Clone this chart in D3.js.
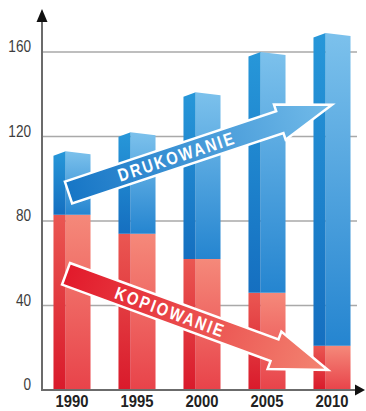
<!DOCTYPE html>
<html>
<head>
<meta charset="utf-8">
<script src="https://cdn.jsdelivr.net/npm/d3@7"></script>
<style>
  html, body { margin: 0; padding: 0; background: #fff; }
  svg { display: block; }
  .cond { font-family: "Liberation Sans", Arial, Helvetica, sans-serif; }
</style>
</head>
<body>
<svg id="chart" width="366" height="411"></svg>
<script>
// Years on the horizontal axis
const years = ["1990", "1995", "2000", "2005", "2010"];
// Copying volume (lower, red part of each bar)
const kopiowanie = [83, 74, 62, 46, 21];
// Printing volume (upper, blue part of each bar)
const drukowanie = [30, 48, 79, 114, 148];
// Value axis ticks
const yTicks = [0, 40, 80, 120, 160];
// Trend arrow endpoints, in data units: [year, value]
const drukArrow = { label: "DRUKOWANIE", from: ["1990", 93.5], to: ["2010", 135] };
const kopiArrow = { label: "KOPIOWANIE", from: ["1990", 55], to: ["2010", 9.5] };

const svg = d3.select("#chart");
const axisX = 42, baseY = 390;

const x = d3.scaleBand().domain(years).range([39.5, 364.5]).paddingInner(0.43).paddingOuter(0.215);
const y = d3.scaleLinear().domain([0, 160]).range([baseY, 52]);

const defs = svg.append("defs");
function vGrad(id, top, bottom) {
  const g = defs.append("linearGradient").attr("id", id).attr("x1", 0).attr("y1", 0).attr("x2", 0).attr("y2", 1);
  g.append("stop").attr("offset", "0%").attr("stop-color", top);
  g.append("stop").attr("offset", "100%").attr("stop-color", bottom);
}
function hGrad(id, left, right) {
  const g = defs.append("linearGradient").attr("id", id).attr("x1", 0).attr("y1", 0).attr("x2", 1).attr("y2", 0);
  g.append("stop").attr("offset", "0%").attr("stop-color", left);
  g.append("stop").attr("offset", "100%").attr("stop-color", right);
}
vGrad("blueL", "#2797d9", "#156fc0");
vGrad("blueR", "#7cc1ec", "#2585d0");
vGrad("redL", "#ea5752", "#d91a2b");
vGrad("redR", "#f5897a", "#e8434a");
hGrad("arrowBlue", "#1776c6", "#72bbe9");
hGrad("arrowRed", "#e21a2b", "#f38572");

// Condensed label: regular face squeezed horizontally
function condText(sel, sx) {
  return sel.attr("transform", function () {
    const cx = +this.getAttribute("data-x"), cy = +this.getAttribute("data-y");
    return `translate(${cx},${cy}) scale(${sx},1)`;
  });
}

// Gridlines
svg.append("g").selectAll("line").data(yTicks.filter(d => d > 0)).join("line")
  .attr("x1", axisX).attr("x2", 357)
  .attr("y1", d => y(d)).attr("y2", d => y(d))
  .attr("stroke", "#a9a9a9").attr("stroke-width", 1.5);

// Tick labels
svg.append("g").attr("class", "cond").selectAll("text").data(yTicks).join("text")
  .attr("data-x", 31).attr("data-y", d => y(d) - 4)
  .attr("text-anchor", "end").attr("dominant-baseline", "middle")
  .attr("font-size", 17).attr("fill", "#3d3d3d")
  .text(d => d)
  .call(condText, 0.8);

// Prism-like bars: narrow darker left face, wider lighter right face
const bw = x.bandwidth();
const leftW = bw * 0.33;
const bars = svg.append("g");
years.forEach((yr, i) => {
  const x0 = x(yr), xm = x0 + leftW, x1 = x0 + bw;
  const redTop = y(kopiowanie[i]);
  const top = y(kopiowanie[i] + drukowanie[i]);
  const g = bars.append("g");
  // red (copying) segment
  g.append("rect").attr("x", x0).attr("y", redTop).attr("width", leftW).attr("height", baseY - redTop).attr("fill", "url(#redL)");
  g.append("rect").attr("x", xm).attr("y", redTop).attr("width", x1 - xm).attr("height", baseY - redTop).attr("fill", "url(#redR)");
  // blue (printing) segment with slanted top edges
  g.append("path").attr("d", `M${x0},${top + 4.5} L${xm},${top} L${xm},${redTop} L${x0},${redTop} Z`).attr("fill", "url(#blueL)");
  g.append("path").attr("d", `M${xm},${top} L${x1},${top + 3} L${x1},${redTop} L${xm},${redTop} Z`).attr("fill", "url(#blueR)");
});

// Axes
svg.append("line").attr("x1", axisX).attr("x2", axisX).attr("y1", baseY + 1).attr("y2", 20)
  .attr("stroke", "#6b6b6b").attr("stroke-width", 2);
svg.append("path").attr("d", `M${axisX},9 L${axisX + 5.5},22 L${axisX - 5.5},22 Z`).attr("fill", "#111");
svg.append("line").attr("x1", axisX - 1).attr("x2", 358).attr("y1", baseY).attr("y2", baseY)
  .attr("stroke", "#6b6b6b").attr("stroke-width", 2);
svg.append("path").attr("d", `M365,${baseY} L355,${baseY - 5.5} L355,${baseY + 5.5} Z`).attr("fill", "#111");

// Year labels
svg.append("g").attr("class", "cond").selectAll("text").data(years).join("text")
  .attr("data-x", d => x(d) + bw / 2).attr("data-y", 403)
  .attr("text-anchor", "middle").attr("dominant-baseline", "middle")
  .attr("font-size", 17).attr("font-weight", "bold").attr("fill", "#222")
  .text(d => d)
  .call(condText, 0.87);

// Trend arrows
function drawArrow(a, fill, startOff, endOff, bodyHalf, headHalf, headLen, textAt) {
  const sx = x(a.from[0]) + bw / 2 + startOff, sy = y(a.from[1]);
  const ex = x(a.to[0]) + bw / 2 + endOff, ey = y(a.to[1]);
  const L = Math.hypot(ex - sx, ey - sy);
  const ang = Math.atan2(ey - sy, ex - sx) * 180 / Math.PI;
  const g = svg.append("g").attr("transform", `translate(${sx},${sy}) rotate(${ang})`);
  const hb = bodyHalf, hh = headHalf, hl = headLen;
  const pts = [[0, -hb], [L - hl, -hb], [L - hl, -hh], [L, 0], [L - hl, hh], [L - hl, hb], [0, hb]];
  g.append("path").attr("d", "M" + pts.map(p => p.join(",")).join("L") + "Z")
    .attr("fill", fill).attr("stroke", "#fff").attr("stroke-width", 2.5).attr("stroke-linejoin", "miter");
  g.append("text").attr("class", "cond")
    .attr("transform", `translate(${textAt},1.5) scale(0.82,1)`)
    .attr("text-anchor", "middle").attr("dominant-baseline", "middle")
    .attr("font-size", 18).attr("font-weight", "bold").attr("fill", "#fff")
    .attr("letter-spacing", 2.5)
    .text(a.label);
}
drawArrow(drukArrow, "url(#arrowBlue)", -3.5, 0, 11.5, 18.5, 55, 114);
drawArrow(kopiArrow, "url(#arrowRed)", -6, -4, 11.5, 20, 57, 111);
</script>
</body>
</html>
